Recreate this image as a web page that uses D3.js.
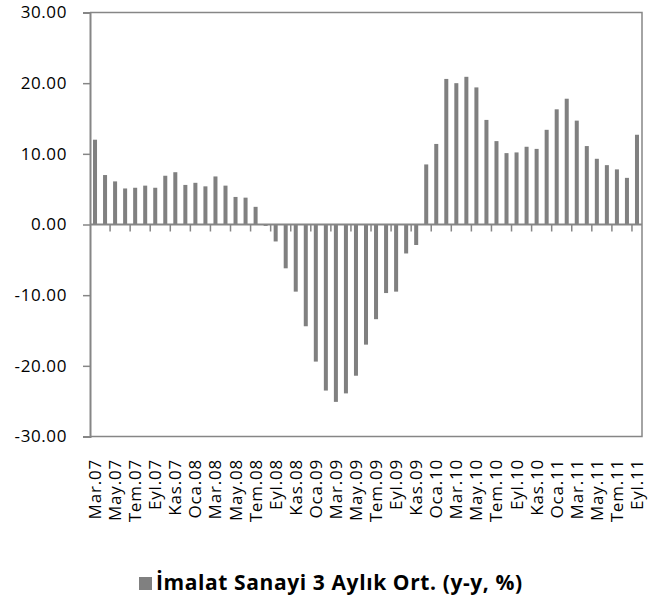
<!DOCTYPE html>
<html>
<head>
<meta charset="utf-8">
<script src="https://cdn.jsdelivr.net/npm/d3@7"></script>
<style>
  body { margin: 0; background: #fff; }
</style>
</head>
<body>
<div class="chart"></div>
<script>
// months from Mar.07 to Eyl.11
var months = ["Mar.07","Nis.07","May.07","Haz.07","Tem.07","Ağu.07","Eyl.07","Eki.07","Kas.07","Ara.07",
  "Oca.08","Şub.08","Mar.08","Nis.08","May.08","Haz.08","Tem.08","Ağu.08","Eyl.08","Eki.08","Kas.08","Ara.08",
  "Oca.09","Şub.09","Mar.09","Nis.09","May.09","Haz.09","Tem.09","Ağu.09","Eyl.09","Eki.09","Kas.09","Ara.09",
  "Oca.10","Şub.10","Mar.10","Nis.10","May.10","Haz.10","Tem.10","Ağu.10","Eyl.10","Eki.10","Kas.10","Ara.10",
  "Oca.11","Şub.11","Mar.11","Nis.11","May.11","Haz.11","Tem.11","Ağu.11","Eyl.11"];

var imalat = [12.0, 7.0, 6.1, 5.1, 5.2, 5.5, 5.2, 6.9, 7.4, 5.6,
  5.9, 5.4, 6.8, 5.5, 3.9, 3.8, 2.5, -0.2, -2.4, -6.2, -9.5, -14.4,
  -19.4, -23.5, -25.1, -23.9, -21.4, -17.0, -13.4, -9.7, -9.5, -4.1, -2.9, 8.5,
  11.4, 20.6, 20.0, 20.9, 19.4, 14.8, 11.8, 10.1, 10.2, 11.0, 10.7, 13.4,
  16.3, 17.8, 14.7, 11.1, 9.3, 8.4, 7.8, 6.6, 12.7];

var yTicks = [-30, -20, -10, 0, 10, 20, 30];
var legendLabel = "İmalat Sanayi 3 Aylık Ort. (y-y, %)";

function drawChart(){
  var w = 662, h = 604;
  var mLeft = 90, mRight = 642, mTop = 12.5, mBottom = 436.5;
  var axisColor = "#868686";
  var barColor = "#808080";

  // plain hyphen for negatives, like the original
  var fmt = d3.formatLocale({decimal: ".", thousands: ",", grouping: [3], currency: ["", ""], minus: "-"})
              .format(".2f");

  var svg = d3.select(".chart")
              .append("svg")
              .attr("width", w)
              .attr("height", h)
              .style("font-family", "Open Sans");

  var x = d3.scaleBand()
            .domain(months)
            .range([mLeft, mRight])
            .paddingInner(0.6)
            .paddingOuter(0.3);

  var y = d3.scaleLinear()
            .domain([-30, 30])
            .range([mBottom, mTop]);

  // plot frame (top, right, bottom)
  svg.append("path")
      .attr("d", "M" + mLeft + "," + mTop + "H" + mRight + "V" + mBottom + "H" + mLeft)
      .attr("fill", "none")
      .attr("stroke", axisColor)
      .attr("stroke-width", 1.5);

  // bars
  svg.append("g")
      .attr("fill", barColor)
    .selectAll("rect")
    .data(imalat)
    .join("rect")
      .attr("x", function(d, i){ return x(months[i]); })
      .attr("y", function(d){ return y(Math.max(0, d)); })
      .attr("width", x.bandwidth())
      .attr("height", function(d){ return Math.abs(y(d) - y(0)); });

  // zero line with tick marks every 2 months
  var zero = svg.append("g").attr("stroke", axisColor);
  zero.append("line")
      .attr("x1", mLeft).attr("x2", mRight)
      .attr("y1", y(0)).attr("y2", y(0))
      .attr("stroke-width", 2);
  zero.selectAll(".tk")
    .data(months.filter(function(d, i){ return i % 2 == 0 && i > 0; }))
    .join("line")
      .attr("class", "tk")
      .attr("x1", function(d){ return x(d) - x.bandwidth() * 0.75; })
      .attr("x2", function(d){ return x(d) - x.bandwidth() * 0.75; })
      .attr("y1", y(0))
      .attr("y2", y(0) + 7)
      .attr("stroke-width", 1.5);

  // y axis
  var yAxis = d3.axisLeft(y)
                .tickValues(yTicks)
                .tickFormat(fmt)
                .tickSize(7)
                .tickPadding(16);

  var yG = svg.append("g")
              .attr("transform", "translate(" + mLeft + ",0)")
              .call(yAxis);
  yG.select(".domain").attr("stroke", axisColor).attr("stroke-width", 2);
  yG.selectAll(".tick line").attr("stroke", axisColor).attr("stroke-width", 1.5);
  yG.selectAll(".tick text")
      .attr("fill", "#000")
      .style("font-family", "Open Sans")
      .style("font-size", "17px")
      .style("letter-spacing", "0.6px");

  // category labels, every second month
  svg.append("g")
    .selectAll("text")
    .data(months.filter(function(d, i){ return i % 2 == 0; }))
    .join("text")
      .attr("transform", function(d){
        return "translate(" + (x(d) + x.bandwidth() / 2 + 6) + ",459) rotate(-90)";
      })
      .attr("text-anchor", "end")
      .style("font-size", "17px")
      .style("letter-spacing", "0.8px")
      .attr("fill", "#000")
      .text(function(d){ return d; });

  // legend, centred under the chart
  var lg = svg.append("g");
  lg.append("rect")
      .attr("y", 577)
      .attr("width", 13).attr("height", 13)
      .attr("fill", barColor);
  var lt = lg.append("text")
      .attr("x", 17).attr("y", 590)
      .style("font-size", "21px")
      .style("font-weight", "bold")
      .style("letter-spacing", "0.6px")
      .attr("fill", "#000")
      .text(legendLabel);
  var lw = 17 + lt.node().getComputedTextLength();
  lg.attr("transform", "translate(" + Math.round(w / 2 - lw / 2) + ",0)");
}

window.onload = drawChart;
</script>
</body>
</html>
